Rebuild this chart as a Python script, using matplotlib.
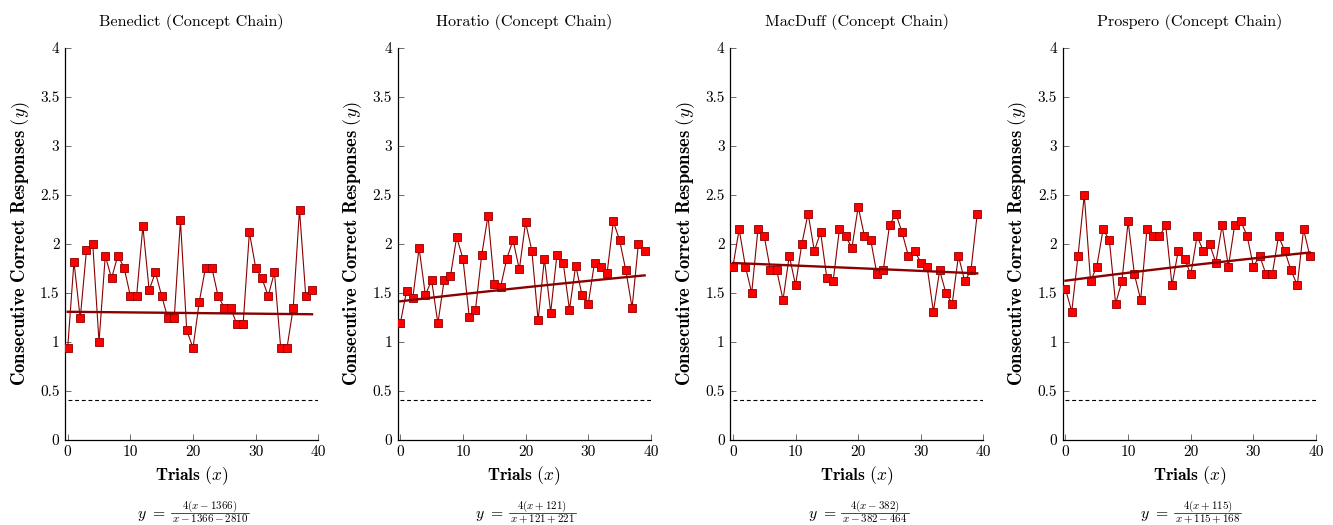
import numpy as np
import matplotlib
matplotlib.use("Agg")
import matplotlib.pyplot as plt
from matplotlib.lines import Line2D
from matplotlib.ticker import FuncFormatter

plt.rcParams["font.family"] = "serif"
plt.rcParams["font.serif"] = ["cmr10"]
plt.rcParams["mathtext.fontset"] = "cm"
plt.rcParams["axes.formatter.use_mathtext"] = True

names = ["Benedict", "Horatio", "MacDuff", "Prospero"]
# model y = 4(x + a) / (x + a + b)
shift_a = [-1366, 121, -382, 115]
shift_b = [-2810, 221, -464, 168]
trials = np.arange(40)

benedict = [0.94, 1.82, 1.24, 1.94, 2.00, 1.00, 1.88, 1.65, 1.88, 1.76,
            1.47, 1.47, 2.18, 1.53, 1.71, 1.47, 1.24, 1.24, 2.24, 1.12,
            0.94, 1.41, 1.76, 1.76, 1.47, 1.35, 1.35, 1.18, 1.18, 2.12,
            1.76, 1.65, 1.47, 1.71, 0.94, 0.94, 1.35, 2.35, 1.47, 1.53]
horatio = [1.19, 1.52, 1.45, 1.96, 1.48, 1.63, 1.19, 1.63, 1.67, 2.07,
           1.85, 1.26, 1.33, 1.89, 2.29, 1.59, 1.56, 1.85, 2.04, 1.74,
           2.22, 1.93, 1.22, 1.85, 1.30, 1.89, 1.81, 1.33, 1.78, 1.48,
           1.39, 1.81, 1.77, 1.70, 2.23, 2.04, 1.73, 1.35, 2.00, 1.93]
macduff = [1.77, 2.15, 1.77, 1.50, 2.15, 2.08, 1.73, 1.73, 1.43, 1.88,
           1.58, 2.00, 2.31, 1.93, 2.12, 1.65, 1.62, 2.15, 2.08, 1.96,
           2.38, 2.08, 2.04, 1.69, 1.73, 2.19, 2.31, 2.12, 1.88, 1.93,
           1.81, 1.77, 1.31, 1.73, 1.50, 1.39, 1.88, 1.62, 1.73, 2.31]
prospero = [1.54, 1.31, 1.88, 2.50, 1.62, 1.77, 2.15, 2.04, 1.39, 1.62,
            2.23, 1.69, 1.43, 2.15, 2.08, 2.08, 2.19, 1.58, 1.93, 1.85,
            1.69, 2.08, 1.93, 2.00, 1.81, 2.19, 1.77, 2.19, 2.23, 2.08,
            1.77, 1.88, 1.69, 1.69, 2.08, 1.93, 1.73, 1.58, 2.15, 1.88]
series = [benedict, horatio, macduff, prospero]

chance_level = 0.41
x_ticks = [0, 10, 20, 30, 40]
y_ticks = [0, 0.5, 1, 1.5, 2, 2.5, 3, 3.5, 4]


def signed(v):
    return f"+{v}" if v >= 0 else f"-{-v}"


W, H = 1333, 525
fig = plt.figure(figsize=(W / 100, H / 100), dpi=100)
renderer = fig.canvas.get_renderer()


def px(x, y):
    # pixel position from the top-left corner -> figure fraction
    return x / W, (H - y) / H


def model_label(cx, a, b):
    # y = numerator / denominator, laid out by hand, centred on cx
    num = fig.text(0, 0, r"$4(x%s)$" % signed(a), fontsize=7.9,
                   ha="center", va="baseline")
    den = fig.text(0, 0, r"$x%s%s$" % (signed(a), signed(b)), fontsize=7.9,
                   ha="center", va="baseline")
    lhs = fig.text(0, 0, r"$y\ =$", fontsize=11.3, ha="left", va="baseline")
    w_frac = max(num.get_window_extent(renderer).width,
                 den.get_window_extent(renderer).width) + 2
    w_lhs = lhs.get_window_extent(renderer).width
    gap = 5
    left = cx - (w_lhs + gap + w_frac) / 2
    fc = left + w_lhs + gap + w_frac / 2
    lhs.set_position(px(left, 518))
    num.set_position(px(fc, 508.5))
    den.set_position(px(fc, 521.5))
    x0, y0 = px(fc - w_frac / 2, 512.5)
    x1, _ = px(fc + w_frac / 2, 512.5)
    fig.add_artist(Line2D([x0, x1], [y0, y0], transform=fig.transFigure,
                          color="black", lw=0.5))


for i, (name, ys, a, b) in enumerate(zip(names, series, shift_a, shift_b)):
    left_px = 65 + i * 332.6
    ax = fig.add_axes([left_px / W, 85 / H, 253.3 / W, 392 / H])
    ys = np.array(ys)

    ax.plot(trials, ys, color="#8b0000", lw=0.8, marker="s", markersize=5.2,
            markerfacecolor="#ff0000", markeredgecolor="#8b0000",
            markeredgewidth=0.6, zorder=3)

    # model curve over the trial range
    xs = np.linspace(trials[0], trials[-1], 100)
    ax.plot(xs, 4 * (xs + a) / (xs + a + b), color="#8b0000", lw=1.7, zorder=4)

    ax.plot([0, 40], [chance_level, chance_level], color="black", lw=0.8,
            linestyle=(0, (3.5, 2.5)), zorder=2)

    ax.set_xlim(-0.43, 40)
    ax.set_ylim(0, 4)
    ax.set_xticks(x_ticks)
    ax.set_yticks(y_ticks)
    ax.yaxis.set_major_formatter(FuncFormatter(lambda v, p: "%g" % v))
    ax.xaxis.set_major_formatter(FuncFormatter(lambda v, p: "%g" % v))
    ax.tick_params(direction="in", length=4, width=0.6, color="#555555",
                   labelsize=11, pad=4)
    for s in ["top", "right"]:
        ax.spines[s].set_visible(False)
    for s in ["left", "bottom"]:
        ax.spines[s].set_linewidth(0.9)

    ax.set_title(f"{name} (Concept Chain)", fontsize=11.6, pad=16)
    ax.set_xlabel(r"$\mathbf{Trials}\ (x)$", fontsize=12.6, labelpad=4)
    ax.set_ylabel(r"$\mathbf{Consecutive\ Correct\ Responses}\ (y)$",
                  fontsize=13.4, labelpad=6)

    model_label(left_px + 2.7 + 125.3, a, b)

fig.savefig("out.png", dpi=100)
